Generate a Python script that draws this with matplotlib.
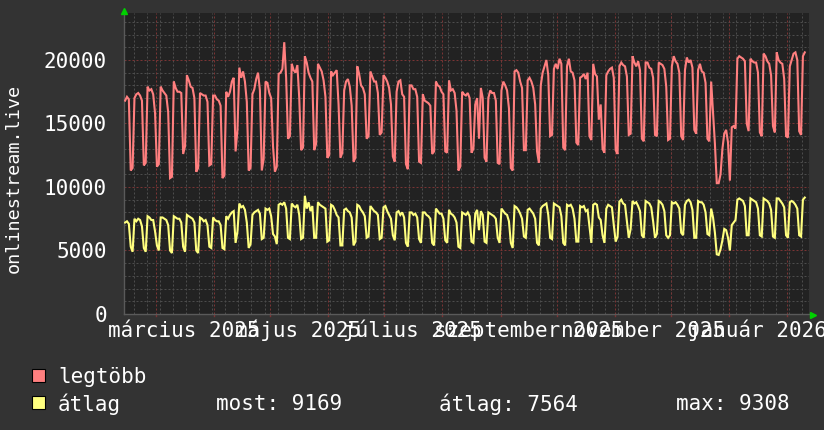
import matplotlib
matplotlib.use("Agg")
import matplotlib.pyplot as plt
import numpy as np
import pandas as pd
from matplotlib.lines import Line2D
from matplotlib.patches import Rectangle

# ---------------- data ----------------
start_date = "2025-02-12 12:00"   # first daily sample (Wed)

# daily maximum ("legtöbb"), Wed 12 Feb 2025 .. Tue 10 Feb 2026
legtobb = [
    16800, 17100, 16900, 11300, 11500,
    17000, 17300, 17400, 17200, 16800, 11700, 11900,
    17900, 17600, 17700, 17300, 15800, 11600, 11800,
    17900, 17600, 17400, 17200, 15900, 10700, 10800,
    18300, 17800, 17500, 17500, 17400, 12600, 13200,
    18800, 18400, 17900, 17800, 17000, 11200, 11500,
    17400, 17300, 17200, 17200, 16700, 11700, 11800,
    17200, 17200, 16900, 16800, 16400, 10700, 10900,
    17500, 17100, 17500, 18300, 18600, 12800, 14500,
    19400, 18600, 19100, 18300, 16700, 11300, 11500,
    17300, 17700, 18500, 19000, 17600, 11300, 12200,
    18300, 18200, 17400, 17000, 13200, 11200, 11600,
    18900, 19000, 19300, 21400, 18600, 13800, 14000,
    19700, 19200, 19000, 19600, 17000, 12900, 13100,
    20300, 19800, 19000, 18600, 18300, 12900, 13400,
    19700, 19400, 19100, 18400, 17100, 12300, 12500,
    19100, 18800, 19000, 19200, 16500, 12300, 12700,
    17600, 18300, 18500, 17900, 16400, 12000, 12300,
    19500, 18900, 18000, 17800, 17300, 13800, 14000,
    19100, 18700, 18300, 18300, 17400, 14100, 14300,
    18800, 18600, 18300, 17800, 16500, 12400, 12000,
    17500, 18300, 18400, 17300, 17100, 11800, 11400,
    18000, 18000, 17700, 17700, 17100, 12000, 11900,
    17300, 16800, 16700, 16600, 16400, 12600, 12800,
    18300, 18000, 17900, 17500, 17300, 12800, 12700,
    18400, 17600, 17700, 17400, 16000, 11300, 11600,
    17500, 17300, 17200, 17400, 17000, 12700, 13000,
    16500, 17000, 13800, 17800, 17000, 12300, 12000,
    17000, 17600, 17400, 17400, 16800, 11900, 11800,
    17600, 18300, 18000, 17600, 16200, 11500, 11300,
    19100, 19200, 19000, 18300, 17800, 12900, 12900,
    18400, 18600, 18300, 17800, 16500, 12800, 11900,
    18000, 19000, 19500, 20000, 18800, 14000, 14100,
    19300, 19700, 19300, 20100, 19700, 13100, 12900,
    19500, 20100, 19100, 19000, 18400, 13500, 13300,
    18600, 18700, 18900, 18500, 19000, 14000, 13700,
    19700, 18900, 18700, 15300, 16500, 13000, 12700,
    18800, 19100, 19300, 19400, 18600, 12900, 12600,
    19500, 19800, 19600, 19500, 18700, 14100, 14200,
    20300, 19800, 19500, 19900, 19200, 13800, 13600,
    19800, 19800, 19400, 19300, 18600, 14100, 14000,
    19800, 19700, 19600, 19300, 17900, 13700, 13800,
    19500, 20300, 19900, 19700, 19000, 14000, 13700,
    19200, 20200, 19800, 20000, 19400, 14500, 14200,
    19200, 19700, 19100, 19000, 18200, 13800, 13600,
    18300, 15800, 13400, 10300, 10300, 11000, 13000,
    14200, 14500, 13500, 10500, 14700, 14800, 14600,
    20100, 20300, 20200, 20100, 19900, 15000, 14400,
    20100, 19900, 19800, 19800, 19000, 14300, 14000,
    20500, 20300, 19900, 19700, 18800, 14800, 14300,
    20600, 20000, 19800, 19700, 18500, 14000, 13900,
    19500, 20000, 20500, 20600, 20000, 14400, 14100,
    20300, 20600,
]

# daily average ("átlag")
atlag = [
    7200, 7300, 7100, 5300, 4900,
    7500, 7300, 7500, 7400, 6900, 5200, 4900,
    7700, 7600, 7400, 7400, 6500, 5400, 5000,
    7600, 7600, 7500, 7400, 7000, 5000, 4800,
    7700, 7600, 7500, 7500, 7200, 5300, 4900,
    7800, 7700, 7600, 7500, 7200, 5000, 4800,
    7600, 7500, 7300, 7400, 7000, 5300, 5200,
    7600, 7400, 7300, 7300, 7000, 5200, 5100,
    7700, 7500, 7800, 8000, 8100, 5600, 6500,
    8700, 8400, 8500, 8200, 7200, 5200, 5500,
    7800, 8000, 8100, 8200, 7900, 5900, 6000,
    8300, 8200, 8300, 7700, 6300, 6100, 5500,
    8600, 8700, 8600, 8800, 8300, 6000, 5900,
    8700, 8500, 8400, 8600, 7800, 5900, 6000,
    9308, 8300, 8800, 8100, 8500, 6000, 6000,
    8800, 8600, 8500, 8400, 8300, 5700, 5800,
    8600, 8500, 8200, 7800, 7600, 5400, 5400,
    8200, 8300, 8100, 8000, 7600, 5400, 5700,
    8600, 8500, 8200, 8000, 7700, 6000, 6100,
    8500, 8300, 8100, 8000, 7800, 5900, 6000,
    8400, 8500, 8100, 7800, 7500, 6200, 5800,
    8000, 8100, 7800, 8000, 7600, 5600, 5300,
    8000, 8000, 7800, 7900, 7600, 5900, 5600,
    8000, 8000, 7800, 7700, 7500, 5600, 5400,
    8300, 8100, 7900, 7900, 7500, 5800, 5600,
    8200, 7900, 7800, 7600, 7200, 5300, 5200,
    8000, 7900, 7800, 8000, 7700, 5700, 5600,
    7900, 8200, 6600, 8100, 7800, 5700, 5600,
    8000, 7900, 7800, 7700, 7500, 6000, 5600,
    8300, 8100, 7900, 7800, 7300, 5600, 5200,
    8500, 8400, 8200, 7900, 7500, 6100, 6000,
    8200, 8300, 8100, 7900, 7500, 5600, 5400,
    8300, 8500, 8600, 8700, 7800, 6000, 5900,
    8700, 8600, 8500, 8400, 7700, 5600, 5400,
    8600, 8500, 8600, 8300, 7500, 5700, 5700,
    8500, 8400, 8500, 8100, 8200, 6900, 5600,
    8600, 8700, 8600, 7600, 7400, 6200, 5600,
    8300, 8600, 8500, 8400, 7000, 5700, 6100,
    8850, 9000, 8700, 8600, 7300, 6000, 6700,
    8900, 8700, 8800, 8500, 8100, 6200, 6000,
    8900, 8800, 8700, 8400, 7300, 6000, 6300,
    8900, 8800, 8600, 8100, 6200, 6000, 6200,
    8800, 8700, 8800, 8600, 8300, 6400, 6200,
    8600, 8900, 9000, 8800, 8200, 6000, 6000,
    8900, 8800, 8800, 8600, 8000, 6300, 6200,
    8300, 7600, 6400, 4700, 4650, 5100, 5800,
    6700, 6600, 6000, 5000, 7000, 7200, 7400,
    9000, 9100, 9000, 8900, 8500, 6200, 6200,
    9100, 9000, 8900, 8800, 8300, 6200, 6100,
    9100, 9000, 8900, 8700, 8200, 6100, 6000,
    9100, 9100, 8900, 8700, 8400, 6200, 6000,
    8800, 8900, 8800, 8600, 8300, 6200, 6100,
    9000, 9169,
]

series_names = ["legtöbb", "átlag"]
stat_labels = ["most:", "átlag:", "max:"]
stat_values = [9169, 7564, 9308]

y_ticks = [0, 5000, 10000, 15000, 20000]
month_starts = ["2025-03-01", "2025-04-01", "2025-05-01", "2025-06-01",
                "2025-07-01", "2025-08-01", "2025-09-01", "2025-10-01",
                "2025-11-01", "2025-12-01", "2026-01-01", "2026-02-01"]
label_months = ["2025-03-01", "2025-05-01", "2025-07-01",
                "2025-09-01", "2025-11-01", "2026-01-01"]
label_texts = ["március 2025", "május 2025", "július 2025",
               "szeptember 2025", "november 2025", "január 2026"]
ylabel = "onlinestream.live"

# ---------------- style ----------------
W, H = 824, 430
BG = "#333333"
CANVAS = "#222222"
MINOR = "#4c4c4c"
MAJOR = "#7a3434"
RED = "#ff7f7f"
YEL = "#ffff7f"
FONT = "DejaVu Sans Mono"

fig = plt.figure(figsize=(W / 100, H / 100), dpi=100, facecolor=BG)
px_l, px_r, px_t, px_b = 124, 809, 13, 314
ax = fig.add_axes([px_l / W, 1 - px_b / H, (px_r - px_l) / W, (px_b - px_t) / H])
ax.set_facecolor(CANVAS)

dates = pd.date_range(start=start_date, periods=len(legtobb), freq="D")
dates_y = pd.date_range(start=start_date, periods=len(atlag), freq="D")

x0 = pd.Timestamp("2025-03-01") - pd.Timedelta(days=17.09)
x1 = pd.Timestamp("2025-03-01") + pd.Timedelta(days=348.75)
ax.set_xlim(x0, x1)
ax.set_ylim(0, 23700)

# grid
for v in range(1000, 23700, 1000):
    if v % 5000:
        ax.axhline(v, color=MINOR, lw=0.72, ls=(0, (2, 2)), zorder=1)
mondays = pd.date_range("2025-02-17", "2026-02-12", freq="7D")
for d in mondays:
    ax.axvline(d, color=MINOR, lw=0.72, ls=(0, (2, 2)), zorder=1)
for v in y_ticks[1:]:
    ax.axhline(v, color=MAJOR, lw=0.72, ls=(0, (2, 2)), zorder=2)
for m in month_starts:
    ax.axvline(pd.Timestamp(m), color=MAJOR, lw=0.72, ls=(0, (2, 2)), zorder=2)

# data
ax.plot(dates, legtobb, color=RED, lw=1.5, zorder=5, solid_joinstyle="miter")
ax.plot(dates_y, atlag, color=YEL, lw=1.5, zorder=5, solid_joinstyle="miter")

# axes
for s in ["top", "right"]:
    ax.spines[s].set_visible(False)
for s in ["left", "bottom"]:
    ax.spines[s].set_color("#5a5a5a")
    ax.spines[s].set_linewidth(1)

ax.set_yticks(y_ticks)
ax.set_yticklabels([str(v) for v in y_ticks])
ax.tick_params(axis="y", length=0, pad=12.2, labelsize=15, labelcolor="white")
for t in ax.get_yticklabels():
    t.set_fontfamily(FONT)
ax.set_xticks([])

# x labels on a common baseline
plot_h = px_b - px_t
base_y = -(337 - px_b) / plot_h
for m, txt in zip(label_months, label_texts):
    ax.text(pd.Timestamp(m) + pd.Timedelta(days=15), base_y, txt,
            transform=ax.get_xaxis_transform(), ha="center", va="baseline",
            color="white", fontsize=15, family=FONT, clip_on=False)

# small ticks under the x axis
for m in month_starts:
    ax.plot([pd.Timestamp(m)] * 2, [0, -0.008], transform=ax.get_xaxis_transform(),
            color=MAJOR, lw=1, clip_on=False)

# arrows
fig.add_artist(Line2D([124.5 / W], [1 - 10.5 / H], marker="^", ms=5, color="#00d000",
                      transform=fig.transFigure))
fig.add_artist(Line2D([813 / W], [1 - 314.5 / H], marker=">", ms=5, color="#00d000",
                      transform=fig.transFigure))

# y label
fig.text(14 / W, 1 - 178 / H, ylabel, rotation=90, ha="center", va="center",
         color="white", fontsize=13.3, family=FONT)

# legend
sq = 13
for i, (name, col) in enumerate(zip(series_names, [RED, YEL])):
    yc = 375 + 27 * i
    fig.add_artist(Rectangle((32 / W, 1 - (yc + sq / 2) / H), sq / W, sq / H,
                             facecolor=col, edgecolor="black", lw=0.8,
                             transform=fig.transFigure))
    fig.text(58 / W, 1 - yc / H, name, ha="left", va="center_baseline",
             color="white", fontsize=15, family=FONT)

stat_x = [216, 439, 676]
for sx, lab, val in zip(stat_x, stat_labels, stat_values):
    fig.text(sx / W, 1 - 402 / H, f"{lab} {val}", ha="left", va="center_baseline",
             color="white", fontsize=15, family=FONT)

fig.savefig("out.png", dpi=100, facecolor=BG)
